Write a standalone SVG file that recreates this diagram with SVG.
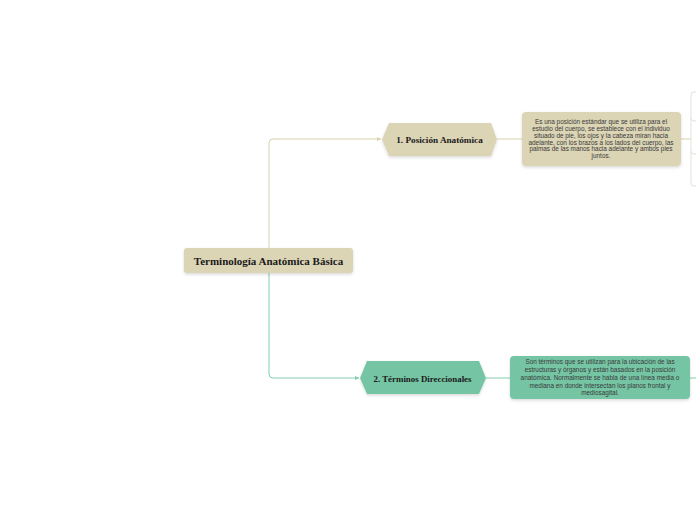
<svg xmlns="http://www.w3.org/2000/svg" width="696" height="520" viewBox="0 0 696 520">
<style>
.title{font-family:"Liberation Serif","DejaVu Serif",serif;font-weight:bold;fill:#1a1a1a;text-anchor:middle}
.desc{font-family:"Liberation Sans","DejaVu Sans",sans-serif;font-size:6.4px;fill:#3a3a3a;text-anchor:middle}
.beige{fill:#dbd4b5}
.green{fill:#74c5a4}
.cb{fill:none;stroke:#d8d1ad;stroke-width:1}
.cg{fill:none;stroke:#80ceb0;stroke-width:1}
.cx{fill:none;stroke:#e4e1d8;stroke-width:1}
</style>
<defs>
<filter id="sh" x="-10%" y="-20%" width="120%" height="150%">
<feDropShadow dx="0" dy="1.5" stdDeviation="1.5" flood-color="#000" flood-opacity="0.15"/>
</filter>
<marker id="ab" markerWidth="5" markerHeight="5" refX="4" refY="2.5" orient="auto" markerUnits="userSpaceOnUse">
<path d="M0,0.5 L4,2.5 L0,4.5 Z" fill="#d8d1ad"/>
</marker>
<marker id="ag" markerWidth="5" markerHeight="5" refX="4" refY="2.5" orient="auto" markerUnits="userSpaceOnUse">
<path d="M0,0.5 L4,2.5 L0,4.5 Z" fill="#80ceb0"/>
</marker>
</defs>
<rect width="696" height="520" fill="#ffffff"/>
<g id="connectors">
<path class="cb" d="M269,248 V143 Q269,139 273,139 H381" marker-end="url(#ab)"/>
<path class="cg" d="M269,273 V374 Q269,378 273,378 H359" marker-end="url(#ag)"/>
<path class="cb" d="M497,139 H522"/>
<path class="cg" d="M486,378 H510"/>
<path class="cb" d="M681,139 H691"/>
<path class="cx" d="M696,92 H694 Q691,92 691,95 V183 Q691,186 694,186 H696"/>
<path class="cx" d="M691,118 Q691,121 694,121 H696"/>
<path class="cx" d="M691,151 Q691,154 694,154 H696"/>
<path class="cg" d="M690,378 H696"/>
</g>
<g id="root">
<rect class="beige" x="184" y="248" width="169" height="25" rx="3" filter="url(#sh)"/>
<text class="title" x="268.5" y="264.5" font-size="11">Terminología Anatómica Básica</text>
</g>
<g id="n1">
<polygon class="beige" points="382,139.5 389,123 491,123 497,139.5 491,156 389,156" filter="url(#sh)"/>
<text class="title" x="439.5" y="143" font-size="9.2">1. Posición Anatómica</text>
</g>
<g id="n2">
<polygon class="green" points="360,378 367,361 479,361 486,378 479,394 367,394" filter="url(#sh)"/>
<text class="title" x="422.5" y="381.5" font-size="8.9">2. Términos Direccionales</text>
</g>
<g id="d1">
<rect class="beige" x="522" y="112" width="159" height="54" rx="4" filter="url(#sh)"/>
<text class="desc" x="601" y="124.3">Es una posición estándar que se utiliza para el</text>
<text class="desc" x="601" y="131">estudio del cuerpo, se establece con el individuo</text>
<text class="desc" x="601" y="138">situado de pie, los ojos y la cabeza miran hacia</text>
<text class="desc" x="601" y="144.7">adelante, con los brazos a los lados del cuerpo, las</text>
<text class="desc" x="601" y="151.3">palmas de las manos hacia adelante  y ambos pies</text>
<text class="desc" x="601" y="158.3">juntos.</text>
</g>
<g id="d2">
<rect class="green" x="510" y="356" width="180" height="43" rx="4" filter="url(#sh)"/>
<text class="desc" x="600" y="364.3">Son términos que se utilizan para la ubicación de las</text>
<text class="desc" x="600" y="372">estructuras y órganos y están basados en la posición</text>
<text class="desc" x="600" y="380">anatómica. Normalmente se habla de una línea media o</text>
<text class="desc" x="600" y="387.7">mediana en donde intersectan los planos frontal y</text>
<text class="desc" x="600" y="395.3">mediosagital.</text>
</g>
</svg>
